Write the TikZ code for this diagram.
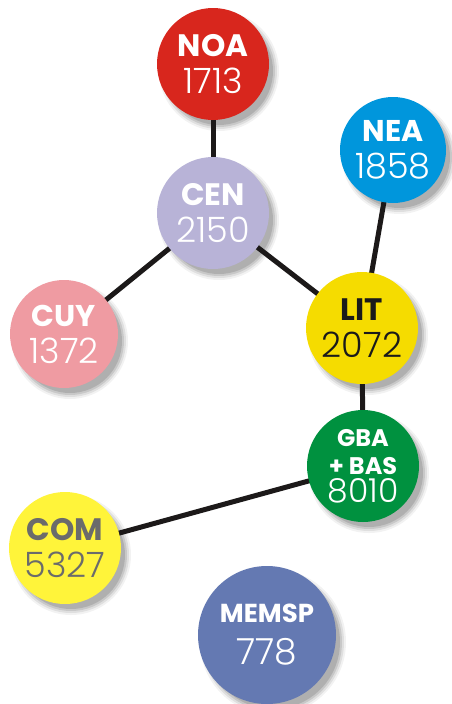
\documentclass[tikz,border=0pt]{standalone}
\usepackage{fontspec}
\setsansfont{Poppins}[BoldFont={Poppins Bold}]
\newfontfamily\thinfont{Poppins Light}
\definecolor{cnoa}{HTML}{D8261D}
\definecolor{ccen}{HTML}{B8B3D7}
\definecolor{cnea}{HTML}{0096DC}
\definecolor{clit}{HTML}{F5DC00}
\definecolor{ccuy}{HTML}{EF9BA2}
\definecolor{cgba}{HTML}{00913F}
\definecolor{ccom}{HTML}{FFF43A}
\definecolor{cmem}{HTML}{6479B2}
\definecolor{edgec}{HTML}{1C1919}
\definecolor{comtext}{HTML}{6B6B6B}
\definecolor{littext}{HTML}{1A1A1A}
\newcommand\bublab[1]{{\sffamily\bfseries #1}}
\newcommand\bubnum[1]{{\fontsize{35}{35}\selectfont\thinfont #1}}
\begin{document}
\begin{tikzpicture}[x=1pt,y=-1pt,
  bub/.style={circle, inner sep=0pt, align=center, text=white,
    font=\fontsize{31}{37}\selectfont},
  link/.style={draw=edgec, line width=5pt}]
\useasboundingbox (0,0) rectangle (451,704);
\fill[white] (0,0) rectangle (451,704);
% shadows
\foreach \x/\y/\r in {213/64/56, 213/213/56, 393/150/53, 362/328/56, 64/334/54, 363/466/56, 65/548/56, 267/635/69}{
  \foreach \d/\o in {4/0.05, 2/0.08, 0/0.10, -2/0.12}{
    \fill[black, opacity=\o] (\x+6,\y+7) circle[radius=\r+\d];
  }
}
% coordinates for edges
\coordinate (pnoa) at (213,64);
\coordinate (pcen) at (213,213);
\coordinate (pnea) at (393,150);
\coordinate (plit) at (362,328);
\coordinate (pcuy) at (64,334);
\coordinate (pgba) at (363,466);
\coordinate (pcom) at (65,548);
\draw[link] (pnoa) -- (pcen);
\draw[link] (pcen) -- (pcuy);
\draw[link] (pcen) -- (plit);
\draw[link] (pnea) -- (plit);
\draw[link] (plit) -- (pgba);
\draw[link] (pgba) -- (pcom);
% bubbles
\node[bub, fill=cnoa, minimum size=112pt] (noa) at (pnoa)
  {\bublab{NOA}\\\bubnum{1713}};
\node[bub, fill=ccen, minimum size=112pt] (cen) at (pcen)
  {\bublab{CEN}\\\bubnum{2150}};
\node[bub, fill=cnea, minimum size=106pt, font=\fontsize{30}{37}\selectfont] (nea) at (pnea)
  {\bublab{NEA}\\\bubnum{1858}};
\node[bub, fill=clit, minimum size=112pt, text=littext] (lit) at (plit)
  {\bublab{LIT}\\\bubnum{2072}};
\node[bub, fill=ccuy, minimum size=108pt, font=\fontsize{30}{37}\selectfont] (cuy) at (pcuy)
  {\bublab{CUY}\\\bubnum{1372}};
\node[bub, fill=cgba, minimum size=112pt, font=\fontsize{24}{28}\selectfont] (gba) at (pgba)
  {\bublab{GBA}\\\bublab{+ BAS}\\{\fontsize{33}{33}\selectfont\thinfont 8010}};
\node[bub, fill=ccom, minimum size=112pt, text=comtext] (com) at (pcom)
  {\bublab{COM}\\\bubnum{5327}};
\node[bub, fill=cmem, minimum size=138pt, font=\fontsize{26}{42}\selectfont] (mem) at (267,635)
  {\bublab{MEMSP}\\{\fontsize{36}{36}\selectfont\thinfont 778}};
\end{tikzpicture}
\end{document}
